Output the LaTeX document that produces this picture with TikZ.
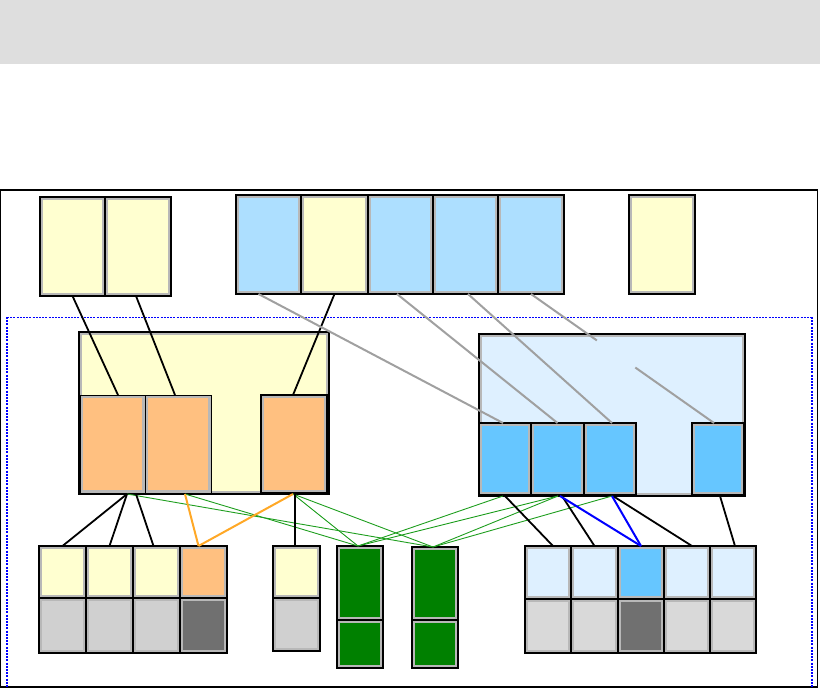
\documentclass[tikz,border=0pt]{standalone}
\usetikzlibrary{calc}
\definecolor{banner}{HTML}{DEDEDE}
\definecolor{cyel}{HTML}{FFFFD0}
\definecolor{cblue}{HTML}{ADDFFF}
\definecolor{cpale}{HTML}{DEF0FF}
\definecolor{cmid}{HTML}{66C6FF}
\definecolor{corange}{HTML}{FFC080}
\definecolor{cgrayA}{HTML}{D0D0D0}
\definecolor{cgrayB}{HTML}{D9D9D9}
\definecolor{cdark}{HTML}{707070}
\definecolor{cgreen}{HTML}{008000}
\definecolor{cellgray}{HTML}{B8B8B8}
\definecolor{linegray}{HTML}{A0A0A0}
\definecolor{lgreen}{HTML}{1E9E1E}
\definecolor{lorange}{HTML}{FFA826}
\tikzset{
  cell/.style={draw=black, line width=1.5pt, inner sep=0pt, outer sep=0pt, anchor=north west,
    path picture={\draw[cellgray,line width=6pt] (path picture bounding box.south west) rectangle (path picture bounding box.north east);}},
  blk/.style={black, line width=1.8pt},
  gln/.style={linegray, line width=2pt},
  grn/.style={lgreen, line width=0.9pt},
  orn/.style={lorange, line width=2pt},
  blu/.style={blue, line width=2pt},
}
\newcommand{\mkcell}[7][]{\node[cell,fill=#7,minimum width={(#5-#3)*1pt},minimum height={(#6-#4)*1pt},#1] (#2) at (#3,#4) {};}
\begin{document}
\begin{tikzpicture}[x=1pt,y=-1pt]
\useasboundingbox (0,0) rectangle (820,688);
% banner
\fill[banner] (0,0) rectangle (820,64);
% outer frame
\draw[black, line width=1.2pt] (0.6,190) rectangle (817.5,687);
% dotted region
\draw[blue, line width=1pt, dash pattern=on 2pt off 1.2pt] (7,317) -- (812,317);
\draw[blue, line width=2.4pt, dash pattern=on 2pt off 1.2pt] (7,317) -- (7,687);
\draw[blue, line width=2.4pt, dash pattern=on 2pt off 1.2pt] (812,317) -- (812,687);
% top left pair
\mkcell{TL1}{40}{197}{105}{296}{cyel}
\mkcell{TL2}{105}{197}{171}{296}{cyel}
% top row
\mkcell{T1}{236}{195}{301}{294}{cblue}
\mkcell{T2}{301}{195}{368}{294}{cyel}
\mkcell{T3}{368}{195}{433}{294}{cblue}
\mkcell{T4}{433}{195}{498}{294}{cblue}
\mkcell{T5}{498}{195}{564}{294}{cblue}
\mkcell{T6}{629}{195}{695}{294}{cyel}
% left container
\mkcell[line width=2pt]{LC}{79}{332}{329}{494}{cyel}
\mkcell[line width=1pt]{O1}{80}{395}{145}{493}{corange}
\mkcell[line width=1pt]{O2}{145}{395}{211}{493}{corange}
\mkcell[line width=1.8pt]{O3}{261}{395}{327}{493}{corange}
% right container
\mkcell[line width=2pt]{RC}{479}{334}{745}{496}{cpale}
\mkcell{B1}{479}{423}{531}{495}{cmid}
\mkcell[line width=2pt]{B2}{531}{423}{584}{495}{cmid}
\mkcell[line width=2pt]{B3}{584}{423}{636}{495}{cmid}
\mkcell{B4}{692}{423}{744}{495}{cmid}
% bottom left group
\mkcell{BL1}{39}{546}{86}{598}{cyel}
\mkcell{BL2}{86}{546}{133}{598}{cyel}
\mkcell{BL3}{133}{546}{180}{598}{cyel}
\mkcell{BL4}{180}{546}{227}{598}{corange}
\mkcell{BG1}{39}{598}{86}{653}{cgrayA}
\mkcell{BG2}{86}{598}{133}{653}{cgrayA}
\mkcell{BG3}{133}{598}{180}{653}{cgrayA}
\mkcell{BG4}{180}{598}{227}{653}{cdark}
% single column
\mkcell{S1}{273}{546}{320}{598}{cyel}
\mkcell{S2}{273}{598}{320}{651}{cgrayA}
% green columns
\mkcell{G1}{337}{546}{383}{620}{cgreen}
\mkcell{G1b}{337}{620}{383}{668}{cgreen}
\mkcell{G2}{412}{547}{458}{620}{cgreen}
\mkcell{G2b}{412}{620}{458}{668}{cgreen}
% bottom right group
\mkcell{BR1}{525}{546}{571}{599}{cpale}
\mkcell{BR2}{571}{546}{618}{599}{cpale}
\mkcell{BR3}{618}{546}{664}{599}{cmid}
\mkcell{BR4}{664}{546}{710}{599}{cpale}
\mkcell{BR5}{710}{546}{756}{599}{cpale}
\mkcell{BRG1}{525}{599}{571}{653}{cgrayB}
\mkcell{BRG2}{571}{599}{618}{653}{cgrayB}
\mkcell{BRG3}{618}{599}{664}{653}{cdark}
\mkcell{BRG4}{664}{599}{710}{653}{cgrayB}
\mkcell{BRG5}{710}{599}{756}{653}{cgrayB}
% source points on container bottoms
\coordinate (la) at ([xshift=48pt]LC.south west);
\coordinate (lb) at ([xshift=57pt]LC.south west);
\coordinate (lc) at ([xshift=106pt]LC.south west);
\coordinate (ld) at ([xshift=214pt]LC.south west);
\coordinate (le) at ([xshift=216pt]LC.south west);
\coordinate (ra) at ([xshift=24pt]RC.south west);
\coordinate (rb) at ([xshift=79pt]RC.south west);
\coordinate (rc) at ([xshift=133pt]RC.south west);
\coordinate (rk1) at ([xshift=26pt]RC.south west);
\coordinate (rk2) at ([xshift=83pt]RC.south west);
\coordinate (rk3) at ([xshift=134pt]RC.south west);
\coordinate (rk4) at ([xshift=241pt]RC.south west);
\coordinate (g1t) at ([xshift=-2pt]G1.north);
\coordinate (g2t) at ([xshift=-2pt]G2.north);
% top black connectors
\draw[blk] (TL1.south) -- ([xshift=5.5pt]O1.north);
\draw[blk] ([xshift=-2pt]TL2.south) -- ([xshift=-3pt]O2.north);
\draw[blk] (T2.south) -- ([xshift=-1pt]O3.north);
% gray connectors
\draw[gln] ([xshift=-10pt]T1.south) -- ([xshift=-2pt]B1.north);
\draw[gln] ([xshift=-3.5pt]T3.south) -- (B2.north);
\draw[gln] ([xshift=2.5pt]T4.south) -- ([xshift=2pt]B3.north);
\coordinate (b4t) at ([xshift=-4pt]B4.north);
\draw[gln] (T5.south) -- ($(T5.south)!0.36!(b4t)$);
\draw[gln] ($(T5.south)!0.57!(b4t)$) -- (b4t);
% green connectors
\draw[grn] (la) -- (g2t);
\draw[grn] (lc) -- (g1t);
\draw[grn] (ld) -- (g1t);
\draw[grn] (ld) -- (g2t);
\draw[grn] (ra) -- (g1t);
\draw[grn] (rb) -- (g1t);
\draw[grn] (rb) -- (g2t);
\draw[grn] (rc) -- (g2t);
% bottom left connectors
\draw[blk] (la) -- (BL1.north);
\draw[blk] (la) -- (BL2.north);
\draw[blk] (lb) -- ([xshift=-3pt]BL3.north);
\draw[orn] (lc) -- ([xshift=-5pt]BL4.north);
\draw[orn] (ld) -- ([xshift=-5pt]BL4.north);
\draw[blk] (le) -- (le |- S1.north);
% bottom right connectors
\draw[blk] (rk1) -- ([xshift=5pt]BR1.north);
\draw[blk] (rk2) -- (BR2.north);
\draw[blk] (rk3) -- ([xshift=5pt]BR4.north);
\draw[blk] (rk4) -- ([xshift=2pt]BR5.north);
\draw[blu] ([xshift=2pt]rb) -- (BR3.north);
\draw[blu] (rc) -- (BR3.north);
\end{tikzpicture}
\end{document}
